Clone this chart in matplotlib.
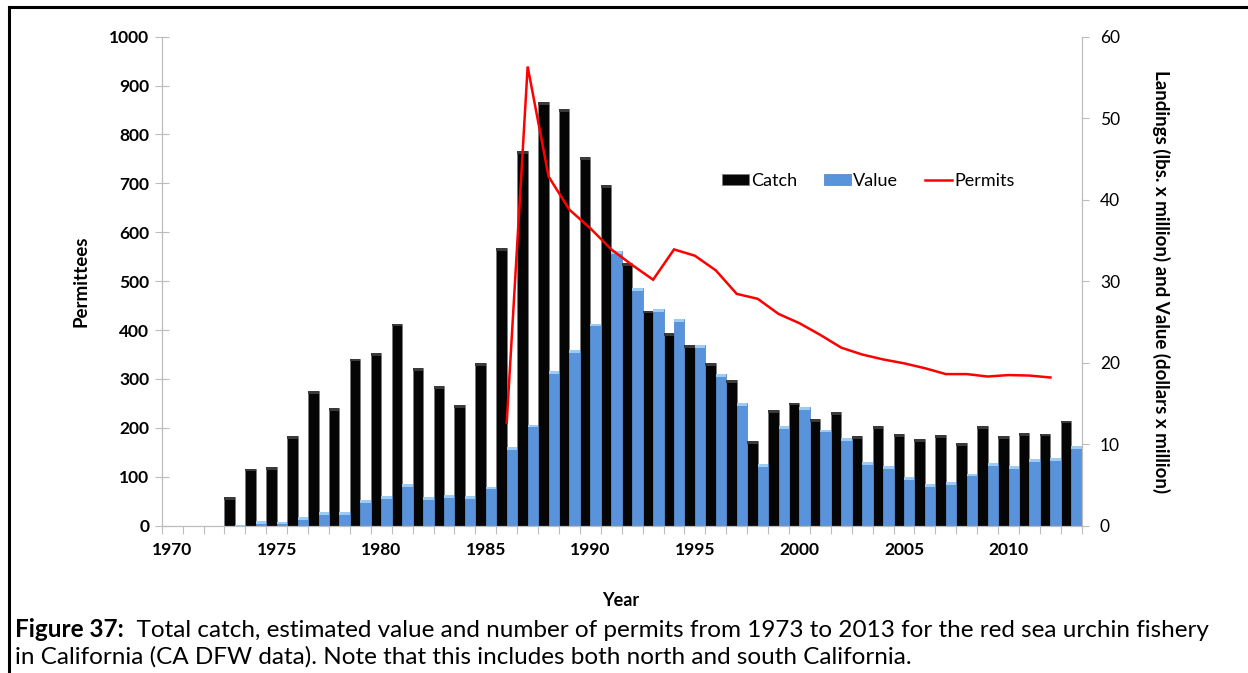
# Red sea urchin fishery: catch, value and permits, 1973-2013
import numpy as np
import matplotlib.pyplot as plt
from matplotlib.lines import Line2D
from matplotlib.patches import Patch

# ==============
# Data
# ==============
years = list(range(1973, 2014))

# landings, lbs x million
catch = [3.5, 7.0, 7.2, 11.0, 16.5, 14.4, 20.5, 21.2, 24.8, 19.3,
         17.1, 14.8, 19.9, 34.1, 46.0, 52.0, 51.1, 45.2, 41.8, 32.2,
         26.4, 23.6, 22.2, 20.0, 17.9, 10.4, 14.2, 15.1, 13.1, 13.9,
         11.0, 12.2, 11.2, 10.6, 11.1, 10.1, 12.2, 11.0, 11.4, 11.3,
         12.9]

# value, dollars x million
value = [0.1, 0.6, 0.5, 1.1, 1.7, 1.7, 3.1, 3.6, 5.1, 3.5,
         3.8, 3.6, 4.8, 9.6, 12.4, 19.0, 21.5, 24.8, 33.7, 29.2,
         26.6, 25.3, 22.2, 18.6, 15.0, 7.6, 12.2, 14.6, 11.8, 10.7,
         7.8, 7.3, 6.0, 5.1, 5.4, 6.4, 7.7, 7.3, 8.2, 8.3,
         9.8]

permit_years = list(range(1986, 2013))
permits = [211, 939, 714, 646, 608, 565, 533, 503, 565, 552,
           522, 474, 464, 433, 414, 390, 364, 350, 340, 332,
           322, 310, 310, 305, 308, 307, 303]

label_years = [1970, 1975, 1980, 1985, 1990, 1995, 2000, 2005, 2010]

# ==============
# Styling
# ==============
plt.rcParams['font.family'] = ['Lato', 'DejaVu Sans']
axis_grey = '#bcbcbc'
black_bar = '#050505'
blue_bar = '#5893dc'

fig = plt.figure(figsize=(12.48, 6.73), dpi=100)
ax = fig.add_axes([0.1296, 0.2189, 0.7372, 0.7266])   # permittees (left)
ax2 = ax.twinx()                                        # landings / value (right)

yrs = np.array(years)
# catch on the left half of each year slot, value on the right half
ax2.bar(yrs, catch, width=0.5, align='edge', color=black_bar,
        edgecolor='#7a7a7a', linewidth=0.5, zorder=2)
ax2.bar(yrs, [0.35] * len(yrs), bottom=np.array(catch) - 0.35, width=0.5,
        align='edge', color='#3a3a3a', linewidth=0, zorder=3)
ax2.bar(yrs + 0.5, value, width=0.5, align='edge', color=blue_bar,
        edgecolor='#4a7fc0', linewidth=0.5, zorder=2)
ax2.bar(yrs + 0.5, [0.35] * len(yrs), bottom=np.array(value) - 0.35, width=0.5,
        align='edge', color='#9cccf4', linewidth=0, zorder=3)

# permits line drawn on the left axis
ax.plot(np.array(permit_years) + 0.5, permits, color='#ff0000', lw=1.8,
        zorder=5, solid_joinstyle='miter')
ax.set_zorder(ax2.get_zorder() + 1)
ax.patch.set_visible(False)

ax.set_xlim(1970, 2014)
ax.set_ylim(0, 1000)
ax2.set_ylim(0, 60)
ax.set_yticks(range(0, 1001, 100))
ax2.set_yticks(range(0, 61, 10))

# year slot boundaries as ticks, labels centred in the slots
ax.set_xticks(range(1970, 2015))
ax.set_xticklabels([])
ax.set_xticks([y + 0.5 for y in label_years], minor=True)
ax.set_xticklabels([str(y) for y in label_years], minor=True,
                   fontsize=12.5, fontweight='bold')
ax.tick_params(axis='x', which='major', direction='out', length=6,
               color=axis_grey, width=0.8)
ax.tick_params(axis='x', which='minor', length=0, pad=12)

ax.tick_params(axis='y', direction='inout', length=10, color=axis_grey,
               width=0.8, pad=4, labelsize=12.5)
for lab in ax.get_yticklabels():
    lab.set_fontweight('bold')
ax2.tick_params(axis='y', direction='out', length=5, color=axis_grey,
                width=0.8, pad=8, labelsize=12.5)

for a in (ax, ax2):
    a.spines['top'].set_visible(False)
    for s in ('left', 'right', 'bottom'):
        a.spines[s].set_color(axis_grey)
        a.spines[s].set_linewidth(0.8)

ax.set_ylabel('Permittees', fontsize=13.5, fontweight='bold', labelpad=14)
ax2.set_ylabel('Landings (lbs. x million) and Value (dollars x million)',
               fontsize=13.5, fontweight='bold', rotation=270, labelpad=36)
fig.text(0.497, 0.108, 'Year', ha='center', va='center',
         fontsize=13, fontweight='bold')

# legend
handles = [Patch(facecolor=black_bar, edgecolor='#7a7a7a', linewidth=0.5),
           Patch(facecolor=blue_bar, edgecolor='#4a7fc0', linewidth=0.5),
           Line2D([0], [0], color='#ff0000', lw=1.8)]
ax.legend(handles, ['Catch', 'Value', 'Permits'], ncol=3, frameon=False,
          loc='center', bbox_to_anchor=(0.768, 0.705), fontsize=13,
          handlelength=1.5, handleheight=0.6, handletextpad=0.1,
          columnspacing=1.5)

# figure border (top and left)
fig.add_artist(Line2D([9 / 1248, 1], [1 - 7 / 673, 1 - 7 / 673],
                      color='black', lw=2.2, transform=fig.transFigure))
fig.add_artist(Line2D([9 / 1248, 9 / 1248], [0, 1 - 7 / 673],
                      color='black', lw=2.2, transform=fig.transFigure))

# caption: bold figure number followed by regular text
t1 = fig.text(15 / 1248, 1 - 637 / 673, 'Figure 37:', fontsize=17.5,
              fontweight='bold', ha='left', va='baseline')
ax.annotate('  Total catch, estimated value and number of permits from '
            '1973 to 2013 for the red sea urchin fishery',
            xy=(1, 0), xycoords=t1, fontsize=17.5, ha='left', va='bottom',
            annotation_clip=False)
fig.text(15 / 1248, 1 - 664 / 673,
         'in California (CA DFW data). Note that this includes both north '
         'and south California.', fontsize=17.5, ha='left', va='baseline')

fig.savefig('out.png', dpi=100)
